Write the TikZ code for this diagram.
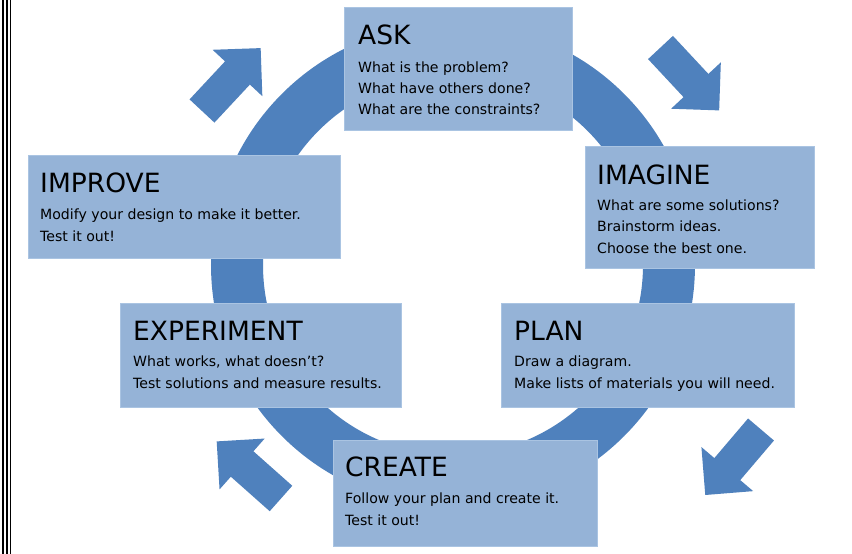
\documentclass[tikz,border=0pt]{standalone}
\usepackage{fontspec}
\setmainfont{DejaVu Sans}
\definecolor{boxfill}{RGB}{149,179,215}
\definecolor{boxline}{RGB}{170,196,226}
\definecolor{ringcol}{RGB}{79,129,189}
\tikzset{
  stagebox/.style={draw=boxline, line width=1pt, fill=boxfill, inner sep=0pt},
  headtext/.style={anchor=base west, inner sep=0pt, font=\fontsize{26.5}{26.5}\selectfont},
  bodytext/.style={anchor=base west, inner sep=0pt, font=\fontsize{14.1}{14.1}\selectfont},
  blockarrow/.style={fill=ringcol, draw=none}
}
\begin{document}
\begin{tikzpicture}[x=1pt, y=-1pt]
\useasboundingbox[fill=white] (0,0) rectangle (852,554);
% left border
\draw[line width=2pt] (2.5,0) -- (2.5,554);
\draw[line width=1.6pt] (7,0) -- (7,554);
\draw[line width=1pt] (10.5,0) -- (10.5,554);
% ring
\draw[ringcol, line width=52pt] (453,265) circle[radius=216];
% arrows
\foreach \tx/\ty/\ang in {202/111/47, 660.5/47.5/-47, 761/429.5/229.6, 281/498.5/138.4}{
  \begin{scope}[shift={(\tx,\ty)}, rotate=\ang]
    \fill[blockarrow] (0,-17) -- (52,-17) -- (52,-34) -- (86,0) -- (52,34) -- (52,17) -- (0,17) -- cycle;
  \end{scope}
}
% boxes
\node[stagebox, minimum width=228pt, minimum height=123pt, anchor=north west] (ask) at (344,7) {};
\node[stagebox, minimum width=229pt, minimum height=122pt, anchor=north west] (imagine) at (585,146) {};
\node[stagebox, minimum width=293pt, minimum height=104pt, anchor=north west] (plan) at (501,303) {};
\node[stagebox, minimum width=264pt, minimum height=106pt, anchor=north west] (create) at (333,440) {};
\node[stagebox, minimum width=281pt, minimum height=104pt, anchor=north west] (experiment) at (120,303) {};
\node[stagebox, minimum width=312pt, minimum height=103pt, anchor=north west] (improve) at (28,155) {};
% texts
\node[headtext] (askH) at (358,45) {ASK};
\node[bodytext] (ask1) at (358,72) {What is the problem?};
\node[bodytext] (ask2) at (358,93) {What have others done?};
\node[bodytext] (ask3) at (358,114) {What are the constraints?};

\node[headtext] (imH) at (597,184) {IMAGINE};
\node[bodytext] (im1) at (597,210) {What are some solutions?};
\node[bodytext] (im2) at (597,231.5) {Brainstorm ideas.};
\node[bodytext] (im3) at (597,253) {Choose the best one.};

\node[headtext] (plH) at (514,340) {PLAN};
\node[bodytext] (pl1) at (514,366) {Draw a diagram.};
\node[bodytext] (pl2) at (514,388) {Make lists of materials you will need.};

\node[headtext] (crH) at (345,476) {CREATE};
\node[bodytext] (cr1) at (345,503) {Follow your plan and create it.};
\node[bodytext] (cr2) at (345,525) {Test it out!};

\node[headtext] (exH) at (133,340) {EXPERIMENT};
\node[bodytext] (ex1) at (133,366) {What works, what doesn't?};
\node[bodytext] (ex2) at (133,388) {Test solutions and measure results.};

\node[headtext] (ipH) at (40,192) {IMPROVE};
\node[bodytext] (ip1) at (40,219) {Modify your design to make it better.};
\node[bodytext] (ip2) at (40,241) {Test it out!};
\end{tikzpicture}
\end{document}
